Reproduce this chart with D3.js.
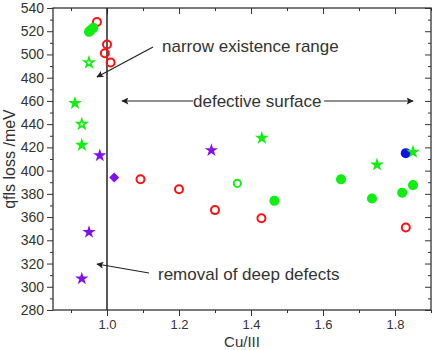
<!DOCTYPE html>
<html>
<head>
<meta charset="utf-8">
<script src="https://cdn.jsdelivr.net/npm/d3@7"></script>
<style>
  body { margin: 0; background: #fff; }
  text { font-family: Arial, "Liberation Sans", sans-serif; }
</style>
</head>
<body>
<div id="chart"></div>
<script>
// Chart size and plot margins
var w = 433;
var h = 350;
var margin = { top: 8, right: 2, bottom: 40, left: 53 };

// Data, one array per marker style
var redOpenX = [0.972, 1.0, 0.994, 1.01, 1.093, 1.2, 1.30, 1.429, 1.83];
var redOpenY = [528, 508.5, 501, 493, 392.5, 384, 366, 359, 351];

var greenDotX = [0.95, 0.955, 0.962, 1.465, 1.65, 1.736, 1.82, 1.85];
var greenDotY = [519.5, 521, 523, 374, 392.5, 376, 381, 387.5];

var greenOpenDotX = [1.362];
var greenOpenDotY = [389];

var blueDotX = [1.83];
var blueDotY = [415];

var greenStarX = [0.911, 0.93, 1.43, 1.75, 1.85];
var greenStarY = [458, 422, 428, 405, 416];

var greenOpenStarX = [0.95, 0.93];
var greenOpenStarY = [493, 440];

var purpleStarX = [0.98, 1.29, 0.95, 0.93];
var purpleStarY = [413, 417.5, 347, 307];

var purpleDiamondX = [1.02];
var purpleDiamondY = [394];

var xTicks = [1.0, 1.2, 1.4, 1.6, 1.8];
var yTicks = [280, 300, 320, 340, 360, 380, 400, 420, 440, 460, 480, 500, 520, 540];

var svg = d3.select("#chart").append("svg")
    .attr("width", w)
    .attr("height", h);

var x0 = margin.left, x1 = w - margin.right;
var y0 = margin.top, y1 = h - margin.bottom;

var xScale = d3.scaleLinear().domain([0.85, 1.9]).range([x0, x1]);
var yScale = d3.scaleLinear().domain([280, 540]).range([y1, y0]);

var axisColor = "#333";

// bottom axis (outward ticks)
var xMinor = d3.range(0.9, 1.91, 0.1);
svg.append("g")
    .attr("transform", "translate(0," + y1 + ")")
    .call(d3.axisBottom(xScale).tickValues(xMinor).tickSize(3).tickFormat(""))
    .call(function(g) { g.select(".domain").remove(); })
    .selectAll("line").attr("stroke", axisColor);
var xAxisG = svg.append("g")
    .attr("transform", "translate(0," + y1 + ")")
    .call(d3.axisBottom(xScale).tickValues(xTicks).tickSize(6).tickPadding(4).tickFormat(d3.format(".1f")));
xAxisG.select(".domain").remove();
xAxisG.selectAll("line").attr("stroke", axisColor);
xAxisG.selectAll("text").attr("fill", axisColor).style("font-size", "13px")
    .style("font-family", "Arial, 'Liberation Sans', sans-serif");

// top axis, ticks pointing into plot
svg.append("g")
    .attr("transform", "translate(0," + y0 + ")")
    .call(d3.axisBottom(xScale).tickValues(xMinor).tickSize(3).tickFormat(""))
    .call(function(g) { g.select(".domain").remove(); })
    .selectAll("line").attr("stroke", axisColor);
svg.append("g")
    .attr("transform", "translate(0," + y0 + ")")
    .call(d3.axisBottom(xScale).tickValues(xTicks).tickSize(6).tickFormat(""))
    .call(function(g) { g.select(".domain").remove(); })
    .selectAll("line").attr("stroke", axisColor);

// left axis (outward ticks)
var yMinor = d3.range(290, 540, 20);
svg.append("g")
    .attr("transform", "translate(" + x0 + ",0)")
    .call(d3.axisLeft(yScale).tickValues(yMinor).tickSize(3).tickFormat(""))
    .call(function(g) { g.select(".domain").remove(); })
    .selectAll("line").attr("stroke", axisColor);
var yAxisG = svg.append("g")
    .attr("transform", "translate(" + x0 + ",0)")
    .call(d3.axisLeft(yScale).tickValues(yTicks).tickSize(6).tickPadding(3));
yAxisG.select(".domain").remove();
yAxisG.selectAll("line").attr("stroke", axisColor);
yAxisG.selectAll("text").attr("fill", axisColor).style("font-size", "14px")
    .style("font-family", "Arial, 'Liberation Sans', sans-serif");

// right axis, ticks pointing into plot
svg.append("g")
    .attr("transform", "translate(" + x1 + ",0)")
    .call(d3.axisRight(yScale).tickValues(yMinor).tickSize(-3).tickFormat(""))
    .call(function(g) { g.select(".domain").remove(); })
    .selectAll("line").attr("stroke", axisColor);
svg.append("g")
    .attr("transform", "translate(" + x1 + ",0)")
    .call(d3.axisRight(yScale).tickValues(yTicks).tickSize(-6).tickFormat(""))
    .call(function(g) { g.select(".domain").remove(); })
    .selectAll("line").attr("stroke", axisColor);

// frame
svg.append("rect")
    .attr("x", x0).attr("y", y0)
    .attr("width", x1 - x0).attr("height", y1 - y0)
    .attr("fill", "none").attr("stroke", axisColor).attr("stroke-width", 1.3);

// vertical line at Cu/III = 1
svg.append("line")
    .attr("x1", xScale(1)).attr("x2", xScale(1))
    .attr("y1", y0).attr("y2", y1)
    .attr("stroke", "#222").attr("stroke-width", 1.5);

// axis titles
svg.append("text")
    .attr("transform", "translate(15," + ((y0 + y1) / 2) + ") rotate(-90)")
    .attr("text-anchor", "middle")
    .attr("fill", axisColor)
    .style("font-size", "16px")
    .text("qfls loss /meV");
svg.append("text")
    .attr("x", 242).attr("y", 346.5)
    .attr("text-anchor", "middle")
    .attr("fill", axisColor)
    .style("font-size", "15px")
    .text("Cu/III");

// arrow head marker
svg.append("defs").append("marker")
    .attr("id", "arrow")
    .attr("viewBox", "0 0 10 10")
    .attr("refX", 9).attr("refY", 5)
    .attr("markerWidth", 9).attr("markerHeight", 7)
    .attr("markerUnits", "userSpaceOnUse")
    .attr("orient", "auto")
    .append("path")
    .attr("d", "M0,0 L10,5 L0,10 L2,5 Z")
    .attr("fill", "#222");

function arrow(xa, ya, xb, yb) {
    svg.append("line")
        .attr("x1", xa).attr("y1", ya)
        .attr("x2", xb).attr("y2", yb)
        .attr("stroke", "#222").attr("stroke-width", 1.2)
        .attr("marker-end", "url(#arrow)");
}

function note(xp, yp, s) {
    svg.append("text")
        .attr("x", xp).attr("y", yp)
        .attr("fill", "#333")
        .style("font-size", "17px")
        .text(s);
}

note(162, 52, "narrow existence range");
arrow(153, 47, 97, 77);
note(193, 107, "defective surface");
arrow(193, 101, 122, 101);
arrow(324, 101, 413, 101);
note(158, 280, "removal of deep defects");
arrow(149, 273, 97, 264);

// series drawing helper
function drawSeries(xs, ys, symbolType, size, fill, stroke, sw) {
    var pts = d3.zip(xs, ys);
    svg.append("g").selectAll("path")
        .data(pts)
        .enter()
        .append("path")
        .attr("transform", function(d) {
            return "translate(" + xScale(d[0]) + "," + yScale(d[1]) + ")";
        })
        .attr("d", d3.symbol().type(symbolType).size(size))
        .attr("fill", fill)
        .attr("stroke", stroke)
        .attr("stroke-width", sw);
}

var red = "#ff1010";
var green = "#11ee11";
var purple = "#8010f0";
var blue = "#1010e8";

drawSeries(redOpenX, redOpenY, d3.symbolCircle, 50, "none", red, 2);
drawSeries(greenOpenDotX, greenOpenDotY, d3.symbolCircle, 40, "none", green, 2);
drawSeries(greenDotX, greenDotY, d3.symbolCircle, 80, green, "none", 0);
drawSeries(blueDotX, blueDotY, d3.symbolCircle, 80, blue, "none", 0);
drawSeries(greenStarX, greenStarY, d3.symbolStar, 58, green, "none", 0);
drawSeries(greenOpenStarX, greenOpenStarY, d3.symbolStar, 28, "none", green, 1.6);
drawSeries(purpleStarX, purpleStarY, d3.symbolStar, 55, purple, "none", 0);
drawSeries(purpleDiamondX, purpleDiamondY, d3.symbolDiamond2, 64, purple, "none", 0);
</script>
</body>
</html>
